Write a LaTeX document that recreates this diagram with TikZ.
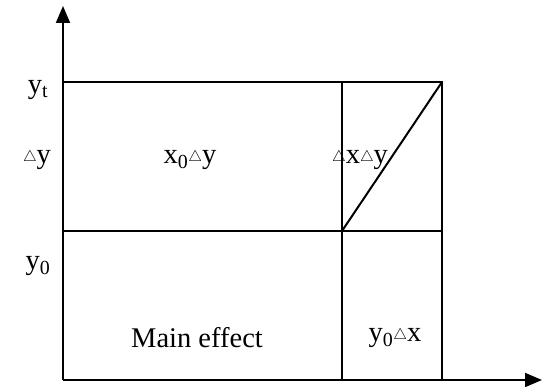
\documentclass[tikz,border=0pt]{standalone}
\usepackage{fontspec}
\setmainfont{Liberation Serif}
\usetikzlibrary{arrows.meta}
\usetikzlibrary{positioning}

\newcommand{\dlt}{\raisebox{2pt}{\scalebox{0.62}{$\triangle$}}}

\begin{document}
\begin{tikzpicture}[
  x=1pt, y=1pt,
  every node/.style={
    font=\fontsize{28.5}{31}\selectfont, inner sep=0pt
  },
  axis/.style={draw, line width=2pt, -{Triangle[width=14pt,length=17pt]}},
  grid line/.style={draw, line width=2pt}
]
\useasboundingbox (0,0) rectangle (544,387);

% corners of the boxes
\coordinate (O) at (63,7);
\coordinate (ytop) at (63,305);
\coordinate (ymid) at (63,156);
\coordinate (xa) at (342,7);
\coordinate (xb) at (442,7);
\coordinate (amid) at (342,156);
\coordinate (atop) at (342,305);
\coordinate (bmid) at (442,156);
\coordinate (btop) at (442,305);
\coordinate (xend) at (542,7);
\coordinate (yend) at (63,381);

% axes
\draw[axis] (O) -- (xend);
\draw[axis] (O) -- (yend);

% boxes
\draw[grid line] (ytop) -- (btop) -- (xb);
\draw[grid line] (ymid) -- (bmid);
\draw[grid line] (atop) -- (xa);
\draw[grid line] (amid) -- (btop);

% labels
\node (yt) at (38,297) {y\textsubscript{t}};
\node (dy) at (37,227) {\dlt y};
\node (y0) at (38,121) {y\textsubscript{0}};
\node (x0dy) at (190,227) {x\textsubscript{0}\dlt y};
\node (dxdy) at (360,227) {\dlt x\dlt y};
\node (main) at (197,49) {Main effect};
\node (y0dx) at (395,49) {y\textsubscript{0}\dlt x};

\end{tikzpicture}
\end{document}
